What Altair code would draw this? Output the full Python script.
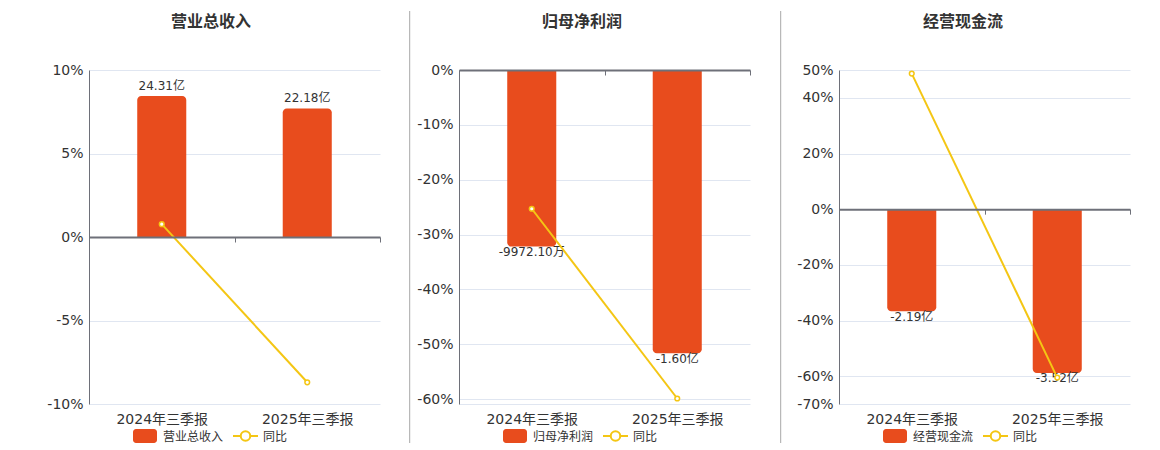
import altair as alt
import pandas as pd

PERIODS = ["2024年三季报", "2025年三季报"]
TITLES = ["营业总收入", "归母净利润", "经营现金流"]
BAR_VALUES = [[24.31, 22.18], [-0.997210, -1.60], [-2.19, -3.52]]
BAR_LABELS = [["24.31亿", "22.18亿"], ["-9972.10万", "-1.60亿"], ["-2.19亿", "-3.52亿"]]
YOY = [[0.77, -8.7], [-25.3, -59.9], [48.7, -60.5]]
YOY_TICKS = [[10, 5, 0, -5, -10],
             [0, -10, -20, -30, -40, -50, -60, -60.9],
             [50, 40, 20, 0, -20, -40, -60, -70]]
YOY_DOMAIN = [[-10, 10], [-60.9, 0], [-70, 50]]
BAR_DOMAIN = [[-28.8, 28.8], [-1.886, 0], [-4.19, 3.01]]
LEGEND_YOY = "同比"

W, H = 291, 334
BAR = "#E84C1D"
LINE = "#F4C614"
AX = "#6E7079"
GRID = "#E0E6F1"
TXT = "#333333"
SEP = "#A8A8A8"
FONT = "DejaVu Sans, Noto Sans CJK SC, sans-serif"


def panel(i, extent, title_x, sep_x):
    df = pd.DataFrame({
        "period": PERIODS,
        "value": BAR_VALUES[i],
        "label": BAR_LABELS[i],
        "yoy": YOY[i],
    })
    lo, hi = YOY_DOMAIN[i]
    zero_px = H * hi / (hi - lo)
    off = -(H - zero_px)
    x = alt.X(
        "period:N", sort=PERIODS,
        scale=alt.Scale(paddingInner=0, paddingOuter=0),
        axis=alt.Axis(title=None, orient="bottom", offset=off, labelPadding=-off + 3,
                      domain=True, domainColor=AX, domainWidth=2,
                      ticks=True, tickBand="extent", tickColor=AX, tickSize=5, tickWidth=1,
                      labelAngle=0, labelFontSize=14, labelColor=TXT, labelFont=FONT,
                      labelOverlap=False, grid=False, zindex=1),
    )
    neg = BAR_VALUES[i][0] < 0
    radius = (dict(cornerRadiusBottomLeft=4, cornerRadiusBottomRight=4) if neg
              else dict(cornerRadiusTopLeft=4, cornerRadiusTopRight=4))
    yb = alt.Y("value:Q", scale=alt.Scale(domain=BAR_DOMAIN[i], nice=False), axis=None)
    bars = alt.Chart(df).mark_bar(color=BAR, width=alt.RelativeBandSize(band=0.337), **radius).encode(
        x=x, y=yb, y2=alt.datum(0))
    labs = alt.Chart(df).mark_text(fontSize=12, color=TXT, font=FONT, baseline="alphabetic",
                                   dy=9.5 if neg else -6).encode(x=x, y=yb, text="label:N")

    yl = alt.Y(
        "yoy:Q",
        scale=alt.Scale(domain=YOY_DOMAIN[i], nice=False, zero=False),
        axis=alt.Axis(title=None, orient="left", values=YOY_TICKS[i],
                      labelExpr="abs(datum.value + 60.9) < 0.01 ? '' : datum.value + '%'",
                      domain=True, domainColor=AX, domainWidth=1, ticks=False,
                      grid=True, gridColor=GRID, gridWidth=1, labelPadding=6,
                      labelFontSize=14, labelColor=TXT, labelFont=FONT,
                      labelOverlap=False, labelFlush=False,
                      minExtent=extent, maxExtent=extent),
    )
    line = alt.Chart(df).mark_line(color=LINE, strokeWidth=2).encode(x=x, y=yl)
    pts = alt.Chart(df).mark_point(shape="circle", size=22, filled=True, fill="white",
                                   stroke=LINE, strokeWidth=1.5, opacity=1).encode(x=x, y=yl)

    one = alt.Data(values=[{"t": TITLES[i], "y": LEGEND_YOY}])
    title = alt.Chart(one).mark_text(fontSize=16, fontWeight="bold", color=TXT, font=FONT,
                                     align="center", baseline="middle").encode(
        x=alt.value(title_x), y=alt.value(-48), text="t:N")
    sw = alt.Chart(one).mark_rect(color=BAR, cornerRadius=3).encode(
        x=alt.value(44), x2=alt.value(68), y=alt.value(359), y2=alt.value(373))
    t1 = alt.Chart(one).mark_text(fontSize=12, color=TXT, font=FONT, align="left",
                                  baseline="middle").encode(
        x=alt.value(74), y=alt.value(366.5), text="t:N")
    lr = alt.Chart(one).mark_rule(color=LINE, strokeWidth=2).encode(
        x=alt.value(144), x2=alt.value(169), y=alt.value(366))
    lp = alt.Chart(one).mark_point(shape="circle", size=90, filled=True, fill="white",
                                   stroke=LINE, strokeWidth=2, opacity=1).encode(
        x=alt.value(156.5), y=alt.value(366))
    t2 = alt.Chart(one).mark_text(fontSize=12, color=TXT, font=FONT, align="left",
                                  baseline="middle").encode(
        x=alt.value(174), y=alt.value(366.5), text="y:N")
    inv = alt.Chart(one).mark_rule(strokeOpacity=0, color="white").encode(
        x=alt.value(0), y=alt.value(-62), y2=alt.value(-58))
    extras = [title, sw, t1, lr, lp, t2, inv]
    if sep_x is not None:
        sep = alt.Chart(one).mark_rule(color=SEP, strokeWidth=1).encode(
            x=alt.value(sep_x), y=alt.value(-59), y2=alt.value(373))
        extras.append(sep)

    return alt.layer(alt.layer(bars, labs), alt.layer(line, pts), *extras).resolve_scale(
        y="independent").properties(width=W, height=H)


p1 = panel(0, 81, 122, None)
p2 = panel(1, 71, 123, -49.3)
p3 = panel(2, 81, 124, -58.3)

chart = alt.hconcat(p1, p2, p3, spacing=7).properties(padding=0).configure_view(stroke=None)

chart.save("out.html", embed_options={"renderer": "svg", "actions": False})
